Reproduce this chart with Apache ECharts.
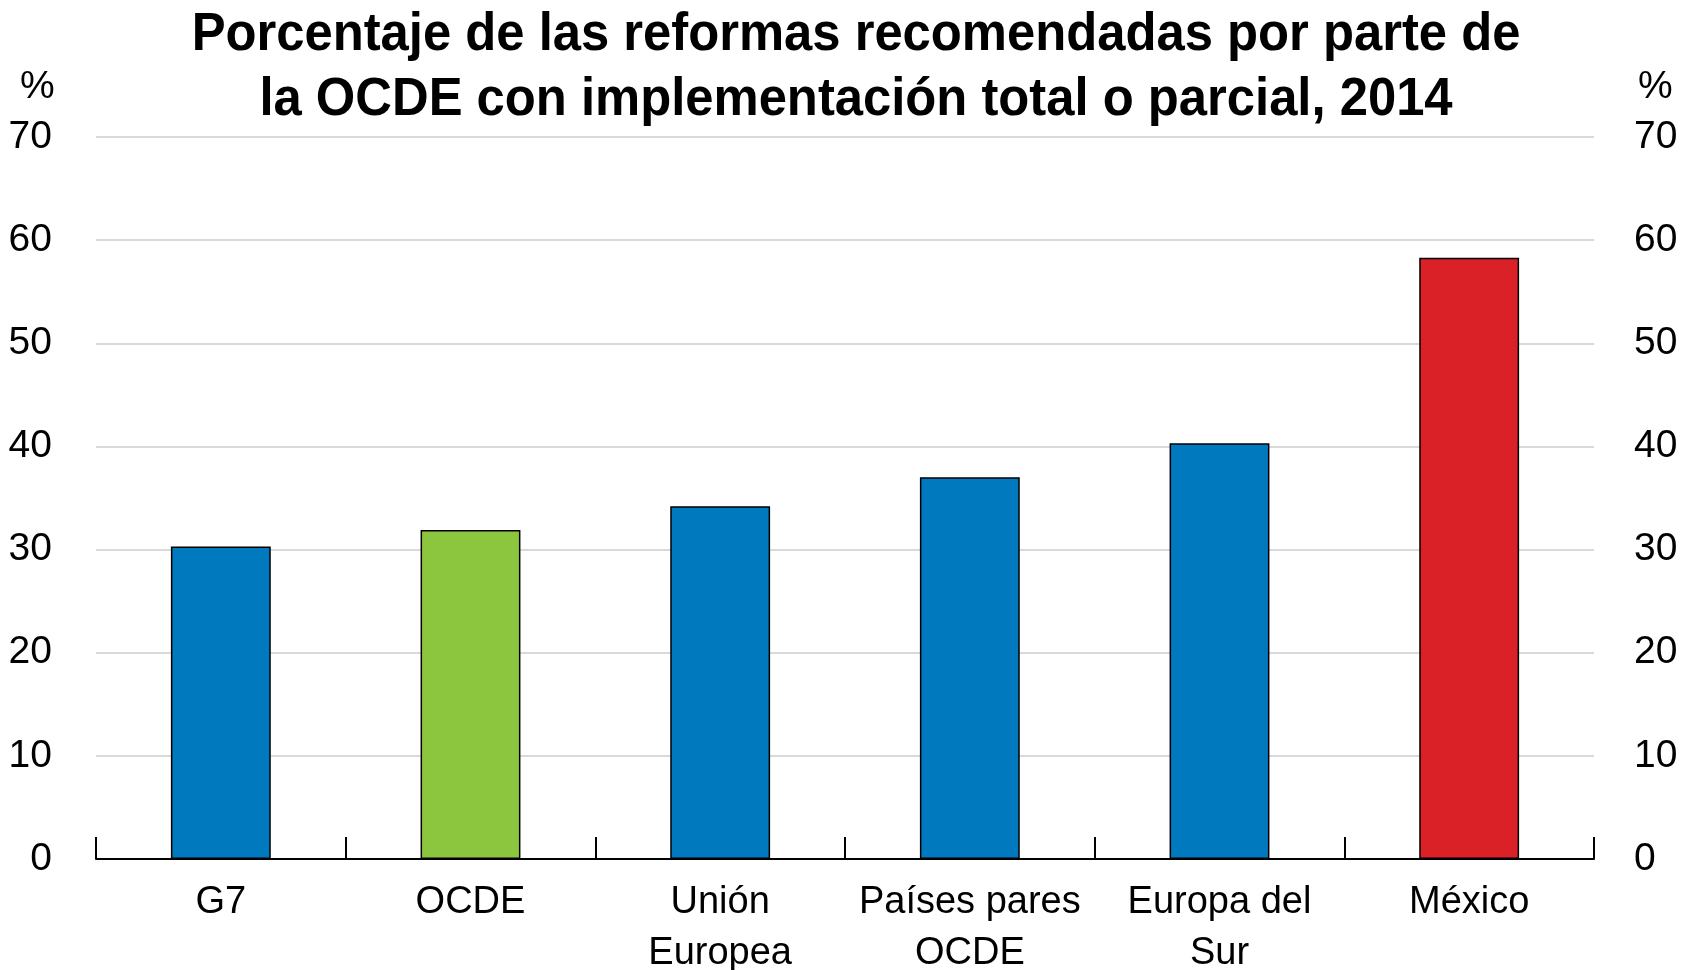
<!DOCTYPE html>
<html>
<head>
<meta charset="utf-8">
<script src="https://cdn.jsdelivr.net/npm/echarts@6/dist/echarts.min.js"></script>
<style>
  html, body { margin: 0; padding: 0; background: #fff; }
  #chart { width: 1690px; height: 970px; }
</style>
</head>
<body>
<div id="chart"></div>
<script>
// datos
var categories = ['G7', 'OCDE', 'Unión\nEuropea', 'Países pares\nOCDE', 'Europa del\nSur', 'México'];
var values = [30.3, 31.9, 34.2, 37.0, 40.3, 58.3];
var barColors = ['#0179be', '#8cc63f', '#0179be', '#0179be', '#0179be', '#da2128'];
var yTicks = [0, 10, 20, 30, 40, 50, 60, 70];
var titleText = 'Porcentaje de las reformas recomendadas por parte de\nla OCDE con implementación total o parcial, 2014';

var FONT = '"Liberation Sans", Arial, sans-serif';

var myChart = echarts.init(document.getElementById('chart'));

var seriesData = [];
for (var i = 0; i < values.length; i++) {
    seriesData.push({ value: values[i], itemStyle: { color: barColors[i] } });
}

function yAxisConf(pos, showGrid) {
    return {
        type: 'value',
        position: pos,
        min: yTicks[0],
        max: yTicks[yTicks.length - 1],
        interval: 10,
        axisLine: { show: false },
        axisTick: { show: false },
        axisLabel: {
            color: '#000',
            fontFamily: FONT,
            fontSize: 39,
            margin: pos === 'left' ? 44 : 40
        },
        splitLine: { show: showGrid, lineStyle: { color: '#d9d9d9', width: 2 } }
    };
}

var options = {
    animation: false,
    backgroundColor: '#fff',
    graphic: [
        // titulo con letra estrecha (escala horizontal)
        {
            type: 'text', x: 856, y: 3, scaleX: 0.94,
            style: {
                text: titleText,
                font: 'bold 54px ' + FONT,
                fill: '#000',
                textAlign: 'center',
                lineHeight: 65
            }
        },
        { type: 'text', left: 20, top: 68, style: { text: '%', font: '39px ' + FONT, fill: '#000' } },
        { type: 'text', left: 1638, top: 68, style: { text: '%', font: '39px ' + FONT, fill: '#000' } }
    ],
    grid: { left: 96, right: 96, top: 137, bottom: 111, outerBoundsMode: 'none' },
    xAxis: {
        type: 'category',
        data: categories,
        axisLine: { show: true, lineStyle: { color: '#000', width: 2 } },
        axisTick: { show: true, inside: true, length: 22, lineStyle: { color: '#000', width: 2 } },
        axisLabel: {
            color: '#000',
            fontFamily: FONT,
            fontSize: 38,
            lineHeight: 51,
            margin: 18,
            interval: 0
        }
    },
    yAxis: [yAxisConf('left', true), yAxisConf('right', false)],
    series: [{
        type: 'bar',
        data: seriesData,
        barWidth: '40%',
        itemStyle: { borderColor: '#000', borderWidth: 1.5 }
    }]
};
myChart.setOption(options, true);
</script>
</body>
</html>
